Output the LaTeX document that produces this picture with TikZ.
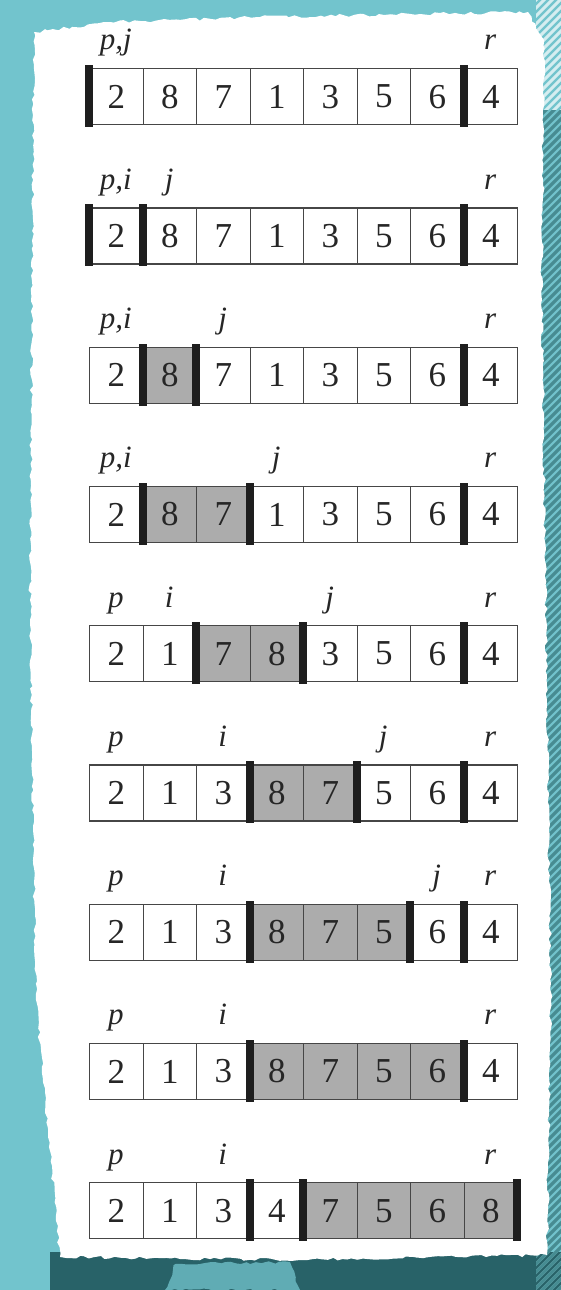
\documentclass[tikz,border=0pt]{standalone}
\usepackage{fontspec}
\setmainfont{Liberation Serif}
\usetikzlibrary{decorations.pathmorphing}
\definecolor{bgteal}{RGB}{114,196,205}
\definecolor{deepteal}{RGB}{40,98,104}
\definecolor{stripeteal}{RGB}{70,140,146}
\definecolor{cellgray}{RGB}{172,172,172}
\definecolor{inkgray}{RGB}{70,70,70}
\definecolor{barink}{RGB}{30,30,30}

\tikzset{
  cellbox/.style={draw=inkgray, line width=1.4pt, minimum width=53.5pt,
    minimum height=56pt, inner sep=0pt, anchor=north west,
    font=\fontsize{35}{40}\selectfont, text=black!85},
  tag/.style={inner sep=0pt, anchor=base, font=\fontsize{31}{34}\selectfont\itshape, text=black!85},
  torn/.style={decorate, decoration={random steps, segment length=5pt, amplitude=1.6pt}}
}

\begin{document}
\begin{tikzpicture}[x=1pt,y=-1pt]
\pgfmathsetseed{11}
\useasboundingbox (0,0) rectangle (561,1290);
% backdrop
\fill[bgteal] (0,0) rectangle (561,1290);
\fill[deepteal] (50,1252) rectangle (561,1290);
\fill[bgteal!75!deepteal, torn] (175,1264) -- (290,1262) -- (300,1290) -- (165,1290) -- cycle;
\begin{scope}
  \clip (536,0) rectangle (561,1290);
  \foreach \k in {0,...,170}
    \draw[line width=3pt, white!70!bgteal] (520,{\k*8}) -- (570,{\k*8-50});
  \clip (536,110) rectangle (561,1290);
  \foreach \k in {0,...,170}
    \draw[line width=3.5pt, stripeteal] (520,{\k*8}) -- (570,{\k*8-50});
\end{scope}
% paper
\fill[white, torn] (34,32) -- (110,22) -- (260,17) -- (420,14) -- (528,12)
  -- (544,40) -- (542,300) -- (547,700) -- (551,1000) -- (547,1255)
  -- (300,1260) -- (60,1257) -- (36,1000) -- (30,600) -- cycle;
% rows of the partition
\foreach \r/\vals/\sa/\sb/\bars/\tags [evaluate=\r as \top using 68+(\r-1)*139.25] in {
  1/{2,8,7,1,3,5,6,4}/0/0/{0,7}/{1/{p,j},8/r},
  2/{2,8,7,1,3,5,6,4}/1/1/{0,1,7}/{1/{p,i},2/j,8/r},
  3/{2,8,7,1,3,5,6,4}/1/2/{1,2,7}/{1/{p,i},3/j,8/r},
  4/{2,8,7,1,3,5,6,4}/1/3/{1,3,7}/{1/{p,i},4/j,8/r},
  5/{2,1,7,8,3,5,6,4}/2/4/{2,4,7}/{1/p,2/i,5/j,8/r},
  6/{2,1,3,8,7,5,6,4}/3/5/{3,5,7}/{1/p,3/i,6/j,8/r},
  7/{2,1,3,8,7,5,6,4}/3/6/{3,6,7}/{1/p,3/i,7/j,8/r},
  8/{2,1,3,8,7,5,6,4}/3/7/{3,7}/{1/p,3/i,8/r},
  9/{2,1,3,4,7,5,6,8}/4/8/{3,4,8}/{1/p,3/i,8/r}} {
  \fill[cellgray] ({89+\sa*53.5},\top) rectangle ({89+\sb*53.5},{\top+56});
  \foreach \v [count=\c] in \vals
    \node[cellbox] (c\r-\c) at ({89+(\c-1)*53.5},\top) {\v};
  \foreach \b in \bars
    \fill[barink] ({89+\b*53.5-4},{\top-3}) rectangle ({89+\b*53.5+4},{\top+59});
  \foreach \t/\lab in \tags
    \node[tag] (l\r-\t) at ({89+(\t-0.5)*53.5},{\top-18}) {\lab};
}
\end{tikzpicture}
\end{document}
